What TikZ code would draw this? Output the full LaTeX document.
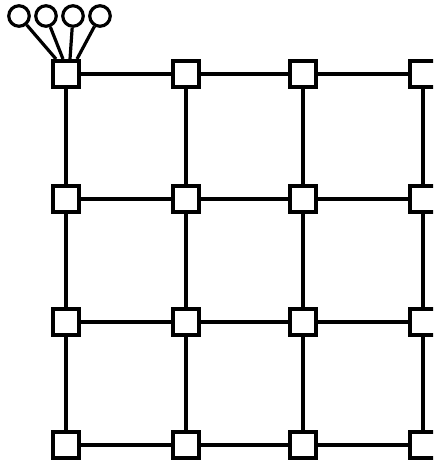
\documentclass[tikz,border=0pt]{standalone}
\begin{document}
\begin{tikzpicture}[x=1pt,y=-1pt,
  sq/.style={draw,line width=3.8pt,fill=white,minimum size=26.5pt,inner sep=0pt},
  cir/.style={circle,draw,line width=3.2pt,minimum size=20.5pt,inner sep=0pt,fill=white},
  edge/.style={line width=3.6pt},
  fan/.style={line width=3.2pt}]
\useasboundingbox (0,0) rectangle (433,462);
\clip (0,0) rectangle (433,462);
\foreach \i/\x in {1/66,2/186,3/303,4/423}
  \foreach \j/\y in {1/74,2/199,3/322,4/445}
    \node[sq] (n\i\j) at (\x,\y) {};
\foreach \i/\k in {1/2,2/3,3/4}
  \foreach \j in {1,2,3,4}
    \draw[edge] (n\i\j) -- (n\k\j);
\foreach \j/\k in {1/2,2/3,3/4}
  \foreach \i in {1,2,3,4}
    \draw[edge] (n\i\j) -- (n\i\k);
\node[cir] (c1) at (19,16) {};
\node[cir] (c2) at (46,16) {};
\node[cir] (c3) at (73,16) {};
\node[cir] (c4) at (100,16) {};
\coordinate (t1) at (56,59);
\coordinate (t2) at (63,59);
\coordinate (t3) at (70,59);
\coordinate (t4) at (77,59);
\foreach \k in {1,2,3,4}
  \draw[fan] (c\k) -- (t\k);
\end{tikzpicture}
\end{document}
